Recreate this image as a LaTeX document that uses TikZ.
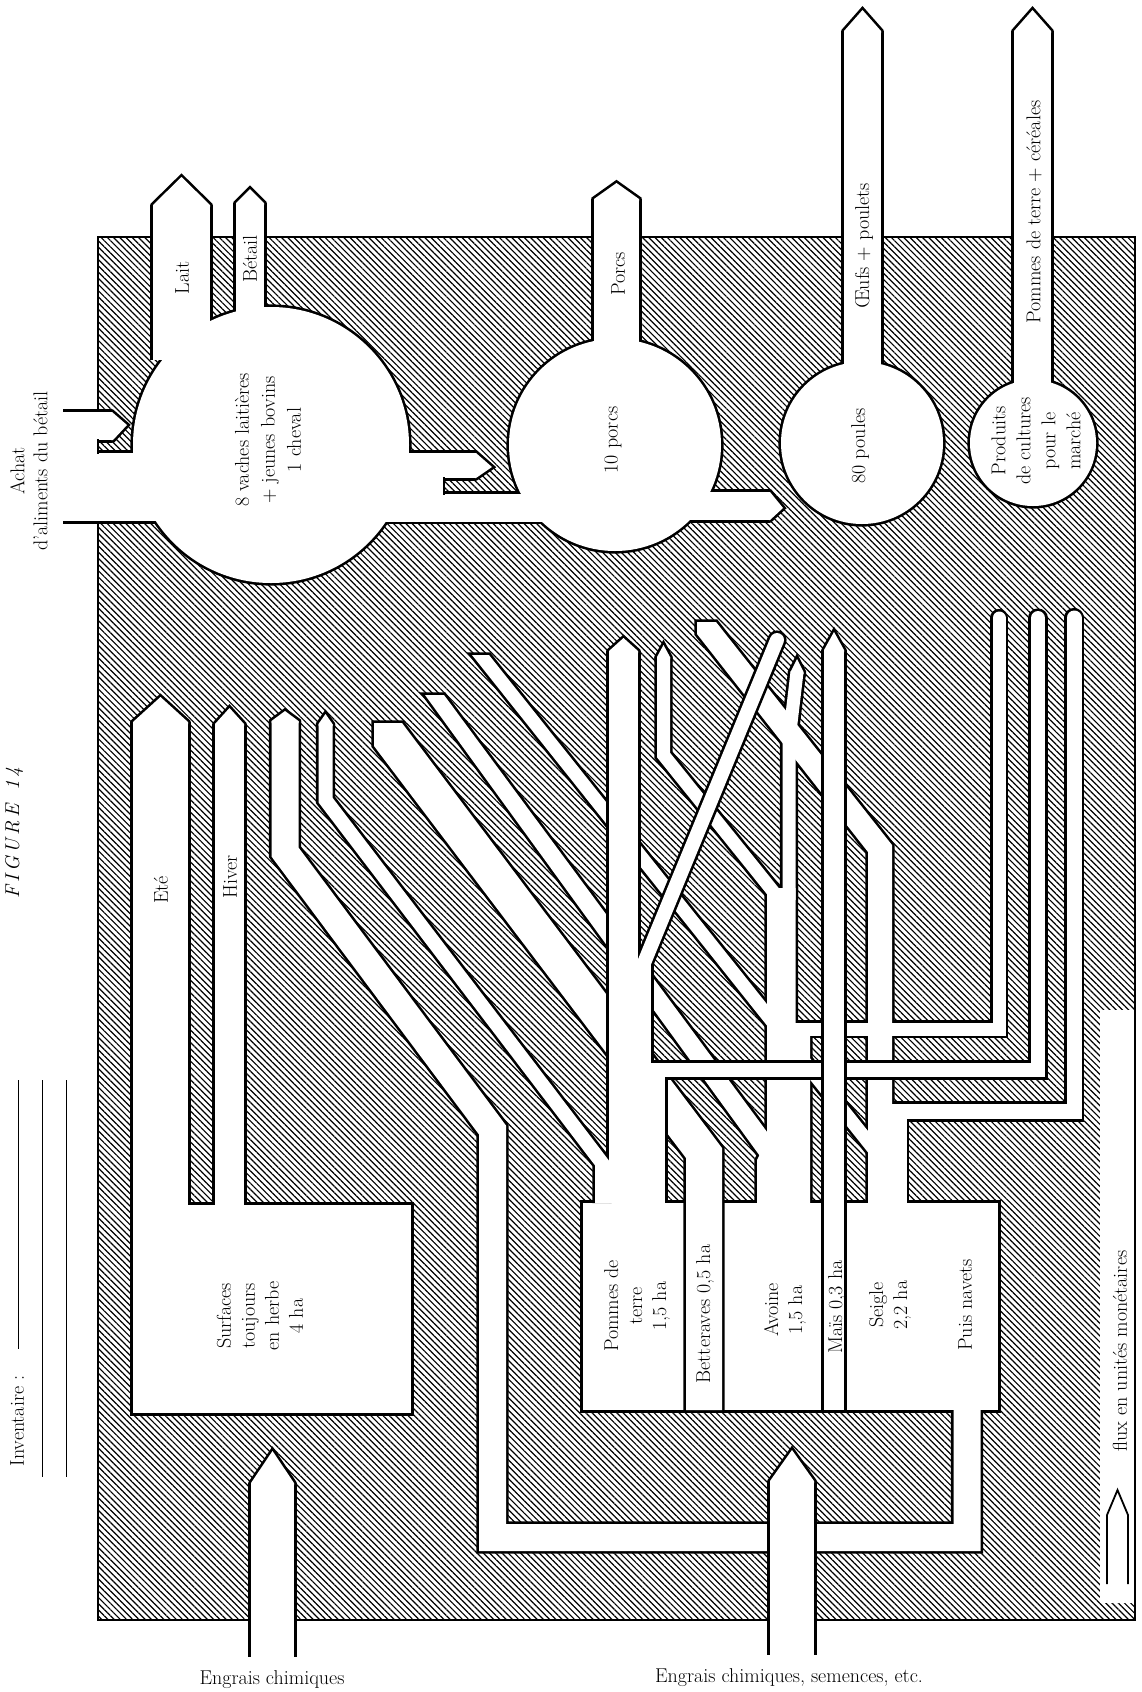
\documentclass[tikz,border=0pt]{standalone}
\usepackage{fontspec}
\usetikzlibrary{patterns.meta}
\newcommand\tipup[4]{\path[sh] ({#1-#2/2},{#3+2}) -- ({#1-#2/2},#3) -- (#1,#4) -- ({#1+#2/2},#3) -- ({#1+#2/2},{#3+2}) -- cycle;}
\newcommand\LayerA{%
  % circles
  \path[sh] (271,445) circle[radius=138];
  \path[sh] (615,445) circle[radius=106];
  \path[sh] (862,443) circle[radius=81];
  \path[sh] (1033,443) circle[radius=63];
  % outputs
  \tipup{181.5}{57}{205}{177}\path[ch=57] (181.5,205) -- (181.5,360);
  \tipup{250}{28}{203}{189}\path[ch=28] (250,203) -- (250,330);
  \tipup{616.5}{45}{199}{183}\path[ch=45] (616.5,199) -- (616.5,360);
  \tipup{862.5}{37}{31}{10}\path[ch=37] (862.5,31) -- (862.5,380);
  \tipup{1032.5}{37}{31}{10}\path[ch=37] (1032.5,31) -- (1032.5,400);
  % achat
  \path[ch=28] (63,426) -- (112,426);
  \path[sh] (111,412) -- (112,412) -- (127,425) -- (113,440) -- (111,440) -- cycle;
  \path[ch=15] (63,446.5) -- (98,446.5);
  \path[ch=68] (63,487) -- (200,487);
  % cows -> pigs
  \path[ch=25] (380,465.5) -- (476,465.5);
  \path[sh] (475,453) -- (476,453) -- (492,467) -- (476,478) -- (475,478) -- cycle;
  \path[ch=18] (380,486) -- (444,486);
  \path[ch=28] (380,507.5) -- (560,507.5);
  % pigs -> hens
  \path[ch=28] (680,506) -- (770,506);
  \path[sh] (769,492) -- (770,492) -- (783,508) -- (770,520) -- (769,520) -- cycle;
  % grassland
  \path[sh] (133,1205) rectangle (411,1413);
  \tipup{160.5}{55}{722}{697}\path[ch=55] (160.5,722) -- (160.5,1207);
  \tipup{229.5}{29}{724}{708}\path[ch=29] (229.5,724) -- (229.5,1207);
  % engrais left
  \tipup{272.5}{43}{1483}{1451}\path[ch=43] (272.5,1483) -- (272.5,1657);
  % crop block
  \path[sh] (583,1203) rectangle (998,1410);
  % U channel (navets)
  \tipup{285}{27}{721}{711}\path[ch=27] (285,721) -- (285,852) -- (492.5,1130) -- (492.5,1537.5) -- (967,1537.5) -- (967,1405);
  % diagonals
  \path[sh] (425,695) -- (444,695) -- (790,1163) -- (765,1163) -- cycle;
  \path[sh] (472,655) -- (489,655) -- (899,1170) -- (882,1170) -- cycle;
  \tipup{663.5}{13}{657}{645}\path[ch=13] (663.5,657) -- (663.5,755) -- (780,900);
  \tipup{797}{13}{672}{659}\path[ch=13] (797,672) -- (789,740) -- (789,900);
  \path[sh] (767,888) -- (795.5,888) -- (795.5,1035) -- (810,1035) -- (810,1205) -- (757,1205) -- (757,1160) -- (767,1140) -- cycle;
  \path[sh] (697,622) -- (716,622) -- (892,845) -- (892,1205) -- (868,1205) -- (868,852) -- (697,634) -- cycle;
  \path[chr=13] (999,618) -- (999,1029) -- (790,1029);
  \path[chr=15] (1074,618) -- (1074,1111.5) -- (899,1111.5) -- (899,1205);
}
\newcommand\LayerB{%
  \path[sh] (374,723) -- (402,723) -- (722,1148) -- (722,1410) -- (686,1410) -- (686,1158) -- (374,746) -- cycle;
}
\newcommand\LayerC{%
  \tipup{623.5}{29}{651}{638}
  \path[ch=29] (623.5,651) -- (623.5,1203);
  \path[ch=42] (630,960) -- (630,1203);
  \path[ch=56] (637,1068) -- (637,1203);
  \path[chr=14] (777,640) -- (644,963);
  \path[chr=14] (1038,618) -- (1038,1070) -- (640,1070);
  \tipup{325.5}{14}{724}{714}\path[ch=14] (325.5,724) -- (325.5,800) -- (602,1163) -- (602,1203);
}
\newcommand\LayerD{%
  \tipup{834}{20}{650}{632}\path[ch=20] (834,650) -- (834,1410);
  \tipup{792}{44}{1481}{1450}\path[ch=44] (792,1481) -- (792,1655);
}
\tikzset{
  passone/.style={ch/.style={draw=black,line width=##1pt+5.2pt,line join=miter},
    chr/.style={draw=black,line width=##1pt+5.2pt,line cap=round,line join=miter},
    sh/.style={draw=black,line width=5.2pt,line join=miter}},
  passtwo/.style={ch/.style={draw=white,line width=##1pt,line join=miter},
    chr/.style={draw=white,line width=##1pt,line cap=round,line join=miter},
    sh/.style={fill=white}},
  lbl/.style={font=\fontsize{20}{24}\selectfont, align=center, inner sep=0pt},
  rlbl/.style={lbl, rotate=90},
  edge/.style={draw=black, line width=2.6pt},
  thinl/.style={draw=black, line width=0.9pt}
}
\begin{document}
\begin{tikzpicture}[x=1pt,y=-1pt]
\useasboundingbox (0,0) rectangle (1141,1692);
\path[pattern={Lines[angle=-45,distance=4.4pt,line width=1.2pt]}] (98,237) rectangle (1135,1620);
\draw[edge] (98,237) rectangle (1135,1620);
\begin{scope}[passone]\LayerA\end{scope}
\begin{scope}[passtwo]\LayerA\end{scope}
\draw[edge] (98,439) -- (98,454);
\draw[edge] (444,477) -- (444,495);
\begin{scope}[passone]\LayerB\end{scope}
\begin{scope}[passtwo]\LayerB\end{scope}
\begin{scope}[passone]\LayerC\end{scope}
\begin{scope}[passtwo]\LayerC\end{scope}
\begin{scope}[passone]\LayerD\end{scope}
\begin{scope}[passtwo]\LayerD\end{scope}
% legend
\fill[white] (1100,1010) rectangle (1133.7,1603);
\draw[line width=1.8pt] (1107,1584) -- (1107,1515) -- (1117.5,1490) -- (1128,1515) -- (1128,1584);
\node[rlbl] (leg) at (1120,1351) {flux en unités monétaires};
% labels
\node[rlbl] (fig) at (14,833) {\itshape F\,I\,G\,U\,R\,E\ \ 1\,4};
\node[rlbl, font=\fontsize{20}{23}\selectfont] (achat) at (29,471) {Achat\\d'aliments du bétail};
\node[rlbl, font=\fontsize{20}{26}\selectfont] (cows) at (268,440) {8 vaches laitières\\+ jeunes bovins\\1 cheval};
\node[rlbl] (pigs) at (613,440) {10 porcs};
\node[rlbl] (hens) at (860,446) {80 poules};
\node[rlbl, font=\fontsize{20}{25}\selectfont] (prod) at (1036,441) {Produits\\de cultures\\pour le\\marché};
\node[rlbl] (lait) at (182,278) {Lait};
\node[rlbl] (betail) at (250,259) {Bétail};
\node[rlbl] (porcs) at (618,274) {Porcs};
\node[rlbl] (oeufs) at (864,246) {Œufs + poulets};
\node[rlbl] (pdtc) at (1034,212) {Pommes de terre + céréales};
\node[rlbl] (ete) at (161,890) {Eté};
\node[rlbl] (hiver) at (230,877) {Hiver};
\node[rlbl] (surf) at (260,1316) {Surfaces\\toujours\\en herbe\\4 ha};
\node[rlbl] (pdt) at (637,1306) {Pommes de\\terre\\1,5 ha};
\node[rlbl] (bett) at (705,1314) {Betteraves 0,5 ha};
\node[rlbl] (avoine) at (785,1310) {Avoine\\1,5 ha};
\node[rlbl] (mais) at (837,1307) {Maïs 0,3 ha};
\node[rlbl] (seigle) at (890,1305) {Seigle\\2,2 ha};
\node[rlbl] (navets) at (965,1305) {Puis navets};
\node[rlbl] (inv) at (17,1421) {Inventaire :};
\draw[thinl] (18,1080) -- (18,1349);
\draw[thinl] (42,1080) -- (42,1477);
\draw[thinl] (66,1080) -- (66,1477);
\node[lbl] (eng1) at (272,1680) {Engrais chimiques};
\node[lbl] (eng2) at (789,1678) {Engrais chimiques, semences, etc.};
\end{tikzpicture}
\end{document}
